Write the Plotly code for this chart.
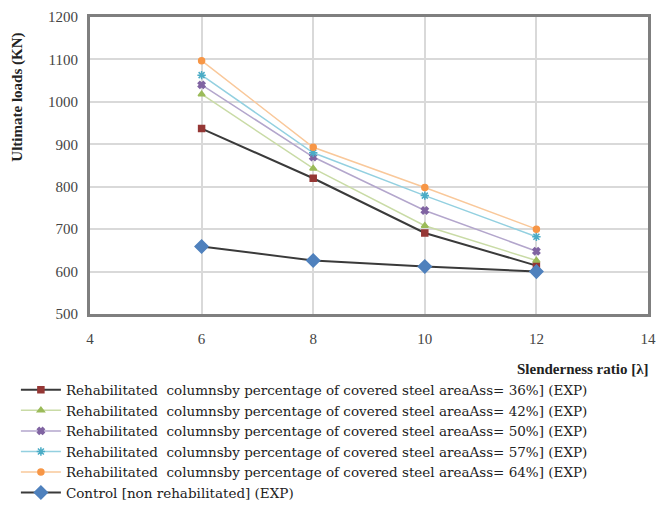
import plotly.graph_objects as go

slenderness = [6, 8, 10, 12]
ass36 = [937, 820, 691, 614]
ass42 = [1018, 843, 708, 626]
ass50 = [1040, 870, 744, 648]
ass57 = [1063, 880, 779, 682]
ass64 = [1097, 893, 798, 700]
control = [659, 626, 612, 600]

names = [
    "Rehabilitated  columnsby percentage of covered steel areaAss= 36%] (EXP)",
    "Rehabilitated  columnsby percentage of covered steel areaAss= 42%] (EXP)",
    "Rehabilitated  columnsby percentage of covered steel areaAss= 50%] (EXP)",
    "Rehabilitated  columnsby percentage of covered steel areaAss= 57%] (EXP)",
    "Rehabilitated  columnsby percentage of covered steel areaAss= 64%] (EXP)",
    "Control [non rehabilitated] (EXP)",
]

series = [ass36, ass42, ass50, ass57, ass64, control]
line_colors = ["#3a3a3a", "#c9dba6", "#b3a6cc", "#93d0e0", "#f9c89a", "#3a3a3a"]
marker_colors = ["#953735", "#9bbb59", "#8064a2", "#4bacc6", "#f79646", "#4f81bd"]
symbols = ["square", "triangle-up", "x", "asterisk", "circle", "diamond"]
msizes = [6, 6, 6, 7, 6, 10]
lwidths = [2, 1.5, 1.5, 1.5, 1.5, 2]

fig = go.Figure()
for name, ys, lc, mc, sym, ms, lw in zip(names, series, line_colors, marker_colors, symbols, msizes, lwidths):
    fig.add_trace(go.Scatter(
        x=slenderness, y=ys, name=name, mode="lines+markers",
        line=dict(color=lc, width=lw),
        marker=dict(color=mc, symbol=sym, size=ms, line=dict(color=mc, width=1.5)),
    ))

font_family = "Liberation Serif"
legend_font = "DejaVu Serif"

fig.update_layout(
    width=658, height=498,
    margin=dict(l=82, r=18, t=9, b=192, autoexpand=False),
    paper_bgcolor="white", plot_bgcolor="white",
    font=dict(family=font_family, size=14, color="#333333"),
    showlegend=True,
    legend=dict(
        xref="container", yref="container", x=0.012, y=0.264,
        xanchor="left", yanchor="top",
        font=dict(family=legend_font, size=13.5, color="#222222"),
        bgcolor="rgba(0,0,0,0)", tracegroupgap=0, itemwidth=40,
    ),
    xaxis=dict(
        range=[4, 14], dtick=2, tick0=4,
        showgrid=True, gridcolor="#d9d9d9", gridwidth=2,
        showline=True, linecolor="#7f7f7f", linewidth=3, mirror=True,
        ticks="", ticklabelstandoff=9, zeroline=False, ticklabeloverflow="allow",
        tickfont=dict(family=font_family, size=15, color="#444444"),
    ),
    yaxis=dict(
        range=[500, 1200], dtick=100,
        showgrid=True, gridcolor="#d9d9d9", gridwidth=2,
        showline=True, linecolor="#7f7f7f", linewidth=3, mirror=True,
        ticks="", ticklabelstandoff=6, zeroline=False, ticklabeloverflow="allow",
        tickfont=dict(family=font_family, size=15, color="#444444"),
    ),
    annotations=[
        dict(text="<b>Slenderness ratio [λ]</b>", xref="paper", yref="paper",
             x=1.005, y=-0.184, xanchor="right", yanchor="middle", showarrow=False,
             font=dict(family=font_family, size=15, color="#222222")),
        dict(text="<b>Ultimate loads (KN)</b>", xref="paper", yref="paper",
             x=-0.13, y=0.73, xanchor="center", yanchor="middle", showarrow=False,
             textangle=-90,
             font=dict(family=font_family, size=15, color="#222222")),
    ],
)

fig.write_html("out.html")
